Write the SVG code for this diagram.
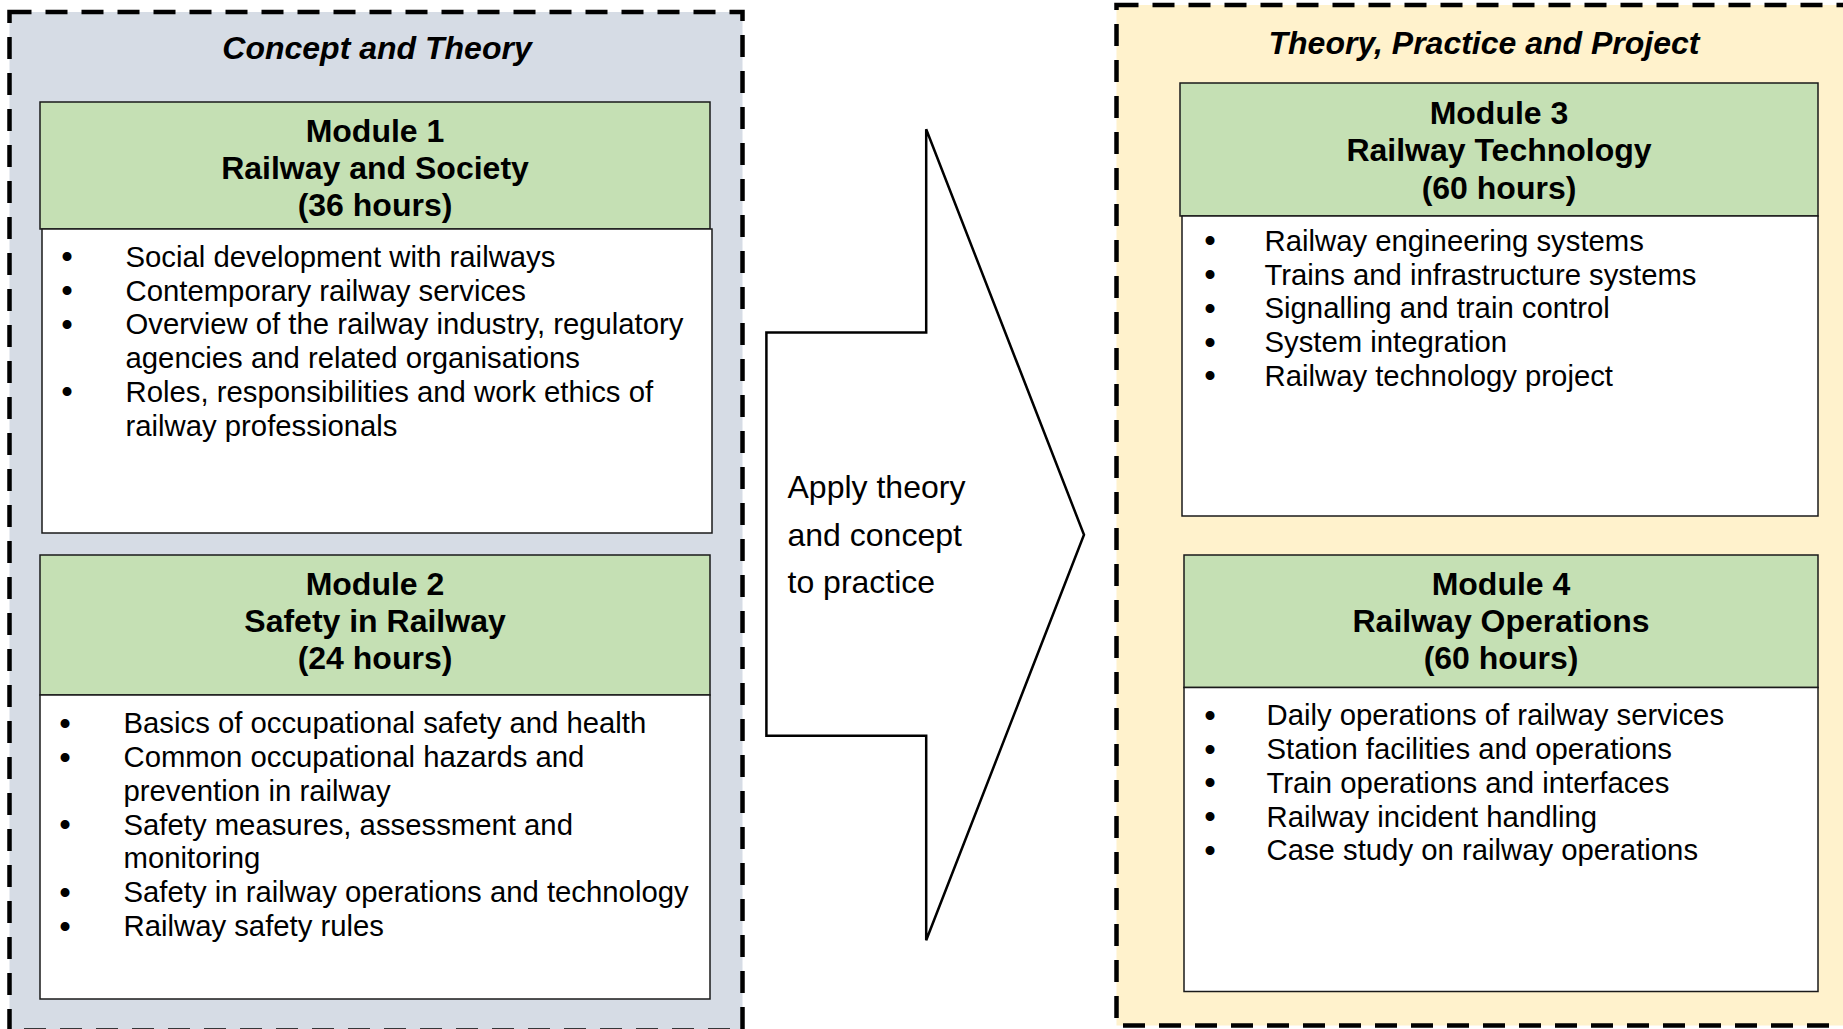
<svg xmlns="http://www.w3.org/2000/svg" width="1843" height="1029" viewBox="0 0 1843 1029">
<style>
.cont{stroke:#000;stroke-width:4.5;stroke-dasharray:22 14}
.left{fill:#D6DCE5}
.right{fill:#FFF2CC}
.hdr{fill:#C5E0B4;stroke:#1a1a1a;stroke-width:1.5}
.body{fill:#FFFFFF;stroke:#1a1a1a;stroke-width:1.5}
.arrow{fill:#FFFFFF;stroke:#000;stroke-width:2.5;stroke-linejoin:miter}
.title{font-family:"Liberation Sans",Arial,sans-serif;font-size:32px;font-weight:bold;font-style:italic;text-anchor:middle;fill:#000}
.htext{font-family:"Liberation Sans",Arial,sans-serif;font-size:32px;font-weight:bold;text-anchor:middle;fill:#000}
.btext{font-family:"Liberation Sans",Arial,sans-serif;font-size:29.3px;fill:#000}
.bul{font-family:"Liberation Sans",Arial,sans-serif;font-size:33px;text-anchor:middle;fill:#000}
.atext{font-family:"Liberation Sans",Arial,sans-serif;font-size:32px;fill:#000}
</style>

<g id="group-concept-theory">
  <rect class="cont left" x="9.5" y="12" width="733" height="1018.5"/>
  <text class="title" x="377" y="59.3">Concept and Theory</text>
</g>

<g id="group-theory-practice-project">
  <rect class="cont right" x="1116.5" y="5" width="800" height="1020.5"/>
  <text class="title" x="1484" y="53.5">Theory, Practice and Project</text>
</g>

<g id="module-1">
  <rect class="hdr" x="40" y="102" width="670" height="127"/>
  <rect class="body" x="42" y="229" width="670" height="304"/>
  <text class="htext" x="375" y="142">Module 1</text>
  <text class="htext" x="375" y="179">Railway and Society</text>
  <text class="htext" x="375" y="215.5">(36 hours)</text>
  <text class="bul" x="67" y="268.2">•</text>
  <text class="btext" x="125.5" y="266.7">Social development with railways</text>
  <text class="bul" x="67" y="302">•</text>
  <text class="btext" x="125.5" y="300.5">Contemporary railway services</text>
  <text class="bul" x="67" y="335.8">•</text>
  <text class="btext" x="125.5" y="334.3">Overview of the railway industry, regulatory</text>
  <text class="btext" x="125.5" y="368.1">agencies and related organisations</text>
  <text class="bul" x="67" y="403.4">•</text>
  <text class="btext" x="125.5" y="401.9">Roles, responsibilities and work ethics of</text>
  <text class="btext" x="125.5" y="435.7">railway professionals</text>
</g>

<g id="module-2">
  <rect class="hdr" x="40" y="555" width="670" height="140"/>
  <rect class="body" x="40" y="695" width="670" height="304"/>
  <text class="htext" x="375" y="595">Module 2</text>
  <text class="htext" x="375" y="632">Safety in Railway</text>
  <text class="htext" x="375" y="669">(24 hours)</text>
  <text class="bul" x="65" y="734.7">•</text>
  <text class="btext" x="123.5" y="733.2">Basics of occupational safety and health</text>
  <text class="bul" x="65" y="768.5">•</text>
  <text class="btext" x="123.5" y="767">Common occupational hazards and</text>
  <text class="btext" x="123.5" y="800.8">prevention in railway</text>
  <text class="bul" x="65" y="836.1">•</text>
  <text class="btext" x="123.5" y="834.6">Safety measures, assessment and</text>
  <text class="btext" x="123.5" y="868.4">monitoring</text>
  <text class="bul" x="65" y="903.7">•</text>
  <text class="btext" x="123.5" y="902.2">Safety in railway operations and technology</text>
  <text class="bul" x="65" y="937.5">•</text>
  <text class="btext" x="123.5" y="936">Railway safety rules</text>
</g>

<g id="module-3">
  <rect class="hdr" x="1180" y="83" width="638" height="133"/>
  <rect class="body" x="1182" y="216" width="636" height="300"/>
  <text class="htext" x="1499" y="123.8">Module 3</text>
  <text class="htext" x="1499" y="161.4">Railway Technology</text>
  <text class="htext" x="1499" y="199">(60 hours)</text>
  <text class="bul" x="1210" y="252.2">•</text>
  <text class="btext" x="1264.5" y="250.7">Railway engineering systems</text>
  <text class="bul" x="1210" y="286">•</text>
  <text class="btext" x="1264.5" y="284.5">Trains and infrastructure systems</text>
  <text class="bul" x="1210" y="319.8">•</text>
  <text class="btext" x="1264.5" y="318.3">Signalling and train control</text>
  <text class="bul" x="1210" y="353.6">•</text>
  <text class="btext" x="1264.5" y="352.1">System integration</text>
  <text class="bul" x="1210" y="387.4">•</text>
  <text class="btext" x="1264.5" y="385.9">Railway technology project</text>
</g>

<g id="module-4">
  <rect class="hdr" x="1184" y="555" width="634" height="132.5"/>
  <rect class="body" x="1184" y="687.5" width="634" height="304"/>
  <text class="htext" x="1501" y="595">Module 4</text>
  <text class="htext" x="1501" y="632">Railway Operations</text>
  <text class="htext" x="1501" y="669">(60 hours)</text>
  <text class="bul" x="1210" y="726.7">•</text>
  <text class="btext" x="1266.5" y="725.2">Daily operations of railway services</text>
  <text class="bul" x="1210" y="760.5">•</text>
  <text class="btext" x="1266.5" y="759">Station facilities and operations</text>
  <text class="bul" x="1210" y="794.3">•</text>
  <text class="btext" x="1266.5" y="792.8">Train operations and interfaces</text>
  <text class="bul" x="1210" y="828.1">•</text>
  <text class="btext" x="1266.5" y="826.6">Railway incident handling</text>
  <text class="bul" x="1210" y="861.9">•</text>
  <text class="btext" x="1266.5" y="860.4">Case study on railway operations</text>
</g>

<g id="connectors">
  <g id="arrow-apply">
    <polygon class="arrow" points="766.4,332.6 926.2,332.6 926.2,129.3 1084,534.8 926.2,940.3 926.2,735.8 766.4,735.8"/>
    <text class="atext" x="787.5" y="497.9">Apply theory</text>
    <text class="atext" x="787.5" y="545.7">and concept</text>
    <text class="atext" x="787.5" y="592.9">to practice</text>
  </g>
</g>
</svg>
